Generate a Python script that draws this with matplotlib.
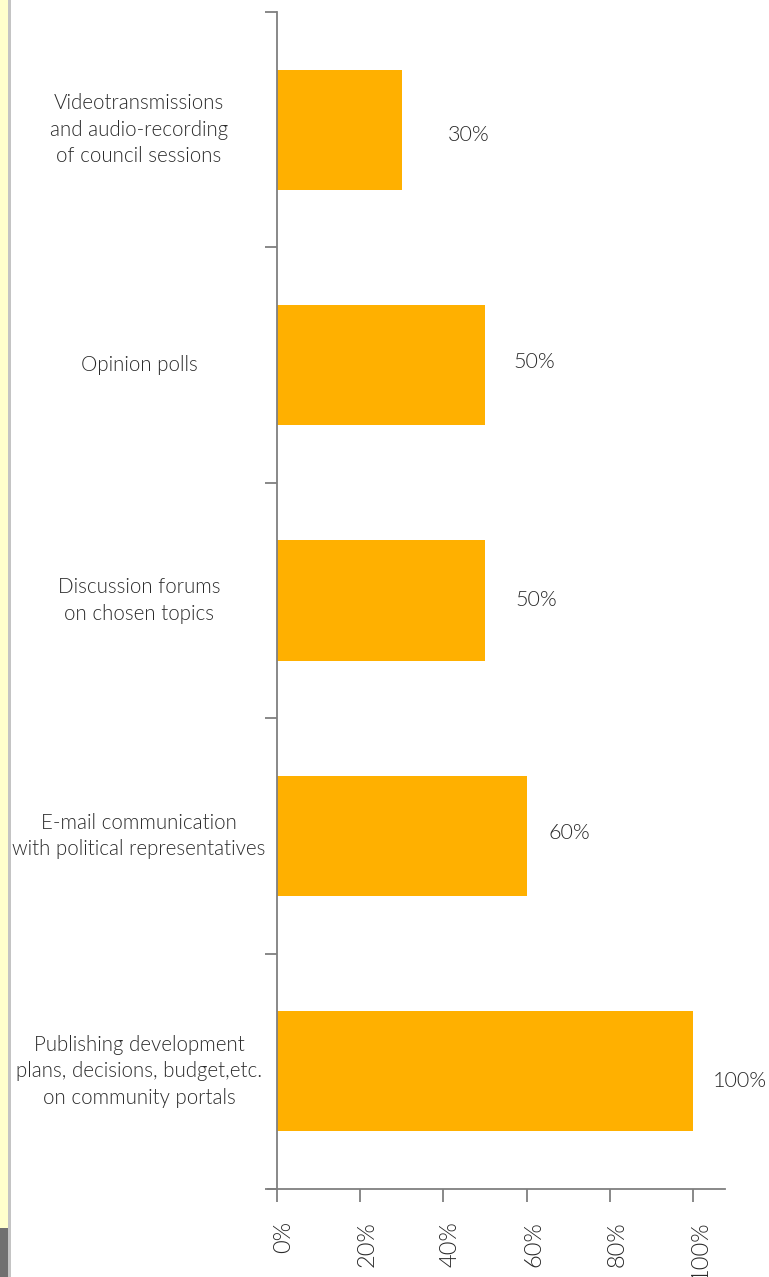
import matplotlib
matplotlib.use("Agg")
import matplotlib.pyplot as plt
import matplotlib.transforms as mtransforms
from matplotlib.patches import Rectangle
from matplotlib.ticker import FixedLocator

categories = [
    "Videotransmissions\nand audio-recording\nof council sessions",
    "Opinion polls",
    "Discussion forums\non chosen topics",
    "E-mail communication\nwith political representatives",
    "Publishing development\nplans, decisions, budget,etc.\non community portals",
]
values = [30, 50, 50, 60, 100]
value_labels = ["30%", "50%", "50%", "60%", "100%"]
xticks = [0, 20, 40, 60, 80, 100]
xtick_labels = ["0%", "20%", "40%", "60%", "80%", "100%"]

# styling: pixel offsets of value labels from bar end
label_offsets = [(46, -5), (28, 3), (30, 0), (22, 3), (20, -10)]

W, H, DPI = 769, 1277, 100
fig = plt.figure(figsize=(W / DPI, H / DPI), dpi=DPI)
fig.patch.set_facecolor("white")

FONT = ["Lato", "DejaVu Sans"]
WEIGHT = 300
TXT = "#2a2a2a"
AX = "#7f7f7f"

# left decorative strip
fig.patches.append(Rectangle((0, 0), 8 / W, 1, transform=fig.transFigure,
                             facecolor="#ffffcc", edgecolor="none", zorder=0))
fig.patches.append(Rectangle((0, 0), 8 / W, 49 / H, transform=fig.transFigure,
                             facecolor="#707070", edgecolor="none", zorder=1))
fig.patches.append(Rectangle((8 / W, 0), 3 / W, 1, transform=fig.transFigure,
                             facecolor="#c4c4c4", edgecolor="none", zorder=1))

left_px, right_px, top_px, bot_px = 268, 725, 12, 1189
ax = fig.add_axes([left_px / W, 1 - bot_px / H, (right_px - left_px) / W,
                   (bot_px - top_px) / H])

px_per_unit = (693 - 277) / 100.0
ax.set_xlim(-(277 - left_px) / px_per_unit, (right_px - 277) / px_per_unit)
ax.set_ylim(len(categories) - 0.5, -0.5)

ypos = list(range(len(categories)))
ax.barh(ypos, values, height=0.51, color="#ffb000", edgecolor="none", zorder=2)

for spine in ["top", "right"]:
    ax.spines[spine].set_visible(False)
ax.spines["left"].set_position(("data", 0))
for s in ["left", "bottom"]:
    ax.spines[s].set_color(AX)
    ax.spines[s].set_linewidth(1.3)

ax.set_xticks(xticks)
ax.set_xticklabels(xtick_labels, rotation=90, fontsize=17, color=TXT,
                   family=FONT, fontweight=WEIGHT, va="top")
ax.tick_params(axis="x", direction="out", length=9, width=1.3, color=AX, pad=14)
offset = mtransforms.ScaledTranslation(7 / DPI, 0, fig.dpi_scale_trans)
for lbl in ax.get_xticklabels():
    lbl.set_transform(lbl.get_transform() + offset)

ax.yaxis.set_major_locator(FixedLocator([i - 0.5 for i in range(len(categories) + 1)]))
ax.set_yticklabels([])
ax.tick_params(axis="y", direction="out", length=9, width=1.3, color=AX)

for i, cat in enumerate(categories):
    ax.annotate(cat, xy=(0, i), xycoords="data", xytext=(139 - 277, 0),
                textcoords="offset pixels", ha="center", va="center",
                fontsize=14.8, color=TXT, family=FONT, fontweight=WEIGHT,
                linespacing=1.42, annotation_clip=False)

for i, (v, lab) in enumerate(zip(values, value_labels)):
    dx, dy = label_offsets[i]
    ax.annotate(lab, xy=(v, i), xycoords="data", xytext=(dx, dy),
                textcoords="offset pixels", ha="left", va="center",
                fontsize=15.5, color=TXT, family=FONT, fontweight=WEIGHT,
                annotation_clip=False)

fig.savefig("out.png", dpi=DPI)
